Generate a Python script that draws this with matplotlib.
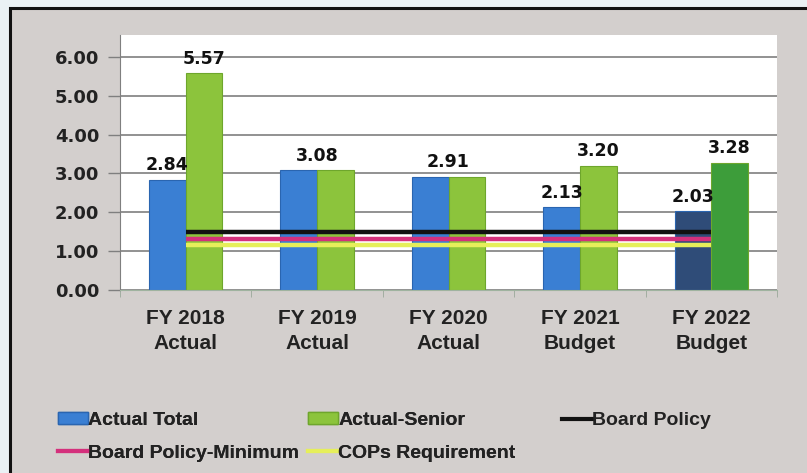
import matplotlib.pyplot as plt
from matplotlib.patches import Rectangle
from matplotlib.lines import Line2D
from matplotlib.patches import Patch
import numpy as np

categories = ["FY 2018\nActual", "FY 2019\nActual", "FY 2020\nActual",
              "FY 2021\nBudget", "FY 2022\nBudget"]
actual_total = [2.84, 3.08, 2.91, 2.13, 2.03]
actual_senior = [5.57, 3.08, 2.91, 3.20, 3.28]
board_policy = [1.50, 1.50, 1.50, 1.50, 1.50]
board_policy_min = [1.30, 1.30, 1.30, 1.30, 1.30]
cops_requirement = [1.15, 1.15, 1.15, 1.15, 1.15]

# which groups get one centred label instead of two
single_label = [False, True, True, False, False]

bg = "#d3cfcd"
blue, blue_edge = "#3a7fd3", "#2a65b0"
green, green_edge = "#8cc43c", "#6ea62c"
blue_last, green_last = "#2f4c78", "#3d9d3a"
c_bp, c_min, c_cops = "#111111", "#d4307c", "#e6ef5a"
txt_font = ["Liberation Sans", "DejaVu Sans"]

fig = plt.figure(figsize=(8.07, 4.73), dpi=100)
fig.patch.set_facecolor("#eaf1f4")
fig.patches.append(Rectangle((10 / 807, -0.05), 1.0, (473 - 8) / 473 + 0.05,
                             transform=fig.transFigure, facecolor=bg,
                             edgecolor="#111111", linewidth=2.2, zorder=-10))

ax = fig.add_axes([120 / 807, 183 / 473, 657 / 807, 255 / 473])
ax.set_facecolor("white")

x = np.arange(len(categories))
w = 0.28
tc = [blue] * 4 + [blue_last]
sc = [green] * 4 + [green_last]
ax.bar(x - w / 2, actual_total, w, color=tc, edgecolor=blue_edge, linewidth=0.8, zorder=2)
ax.bar(x + w / 2, actual_senior, w, color=sc, edgecolor=green_edge, linewidth=0.8, zorder=2)

ax.plot(x, board_policy, color=c_bp, lw=3.2, zorder=3, solid_capstyle="butt")
ax.plot(x, board_policy_min, color=c_min, lw=3.2, zorder=3, solid_capstyle="butt")
ax.plot(x, cops_requirement, color=c_cops, lw=3.2, zorder=3, solid_capstyle="butt")

lab = dict(ha="center", va="bottom", fontsize=12.5, fontweight="bold", color="#111111")
for i in range(len(x)):
    if single_label[i]:
        ax.text(x[i], max(actual_total[i], actual_senior[i]) + 0.14,
                f"{actual_total[i]:.2f}", **lab)
    else:
        ax.text(x[i] - w / 2, actual_total[i] + 0.14, f"{actual_total[i]:.2f}", **lab)
        ax.text(x[i] + w / 2, actual_senior[i] + 0.14, f"{actual_senior[i]:.2f}", **lab)

ax.set_xlim(-0.5, 4.5)
ax.set_ylim(0, 6.56)
ax.set_yticks(np.arange(0, 7, 1))
ax.set_yticklabels([f"{v:.2f}" for v in np.arange(0, 7, 1)],
                   fontsize=13, fontweight="bold", color="#222222")
ax.yaxis.grid(True, color="#7f7f7f", linewidth=1.2, zorder=1)
ax.set_axisbelow(True)
ax.tick_params(axis="y", length=9, width=1, color="#7f7f7f", pad=6)

ax.set_xticks(x)
ax.set_xticklabels(categories, fontsize=15, fontweight="bold", color="#222222",
                   family=txt_font, linespacing=1.4)
ax.tick_params(axis="x", length=0, pad=14)
ax.set_xticks(np.arange(-0.5, 5, 1), minor=True)
ax.tick_params(axis="x", which="minor", length=5, color="#9aa89a")

for s in ["top", "right"]:
    ax.spines[s].set_visible(False)
ax.spines["left"].set_color("#7f7f7f")
ax.spines["bottom"].set_color("#9fb39f")

leg_kw = dict(loc="upper left", frameon=False,
              prop={"family": txt_font, "weight": "bold", "size": 14},
              handlelength=1.55, handleheight=0.55, handletextpad=0.0,
              labelspacing=0.8, labelcolor="#222222", borderaxespad=0, borderpad=0)
handles = [
    Patch(facecolor=blue, edgecolor=blue_edge, label="Actual Total"),
    Line2D([], [], color=c_min, lw=3, label="Board Policy-Minimum"),
    Patch(facecolor=green, edgecolor=green_edge, label="Actual-Senior"),
    Line2D([], [], color=c_cops, lw=3, label="COPs Requirement"),
]
leg = fig.legend(handles=handles, ncol=2, columnspacing=0.45,
                 bbox_to_anchor=(58 / 807, 1 - 412 / 473), **leg_kw)
fig.add_artist(leg)
fig.legend(handles=[Line2D([], [], color=c_bp, lw=3, label="Board Policy")],
           bbox_to_anchor=(562 / 807, 1 - 412 / 473), **leg_kw)

fig.savefig("out.png", dpi=100, facecolor=fig.get_facecolor())
